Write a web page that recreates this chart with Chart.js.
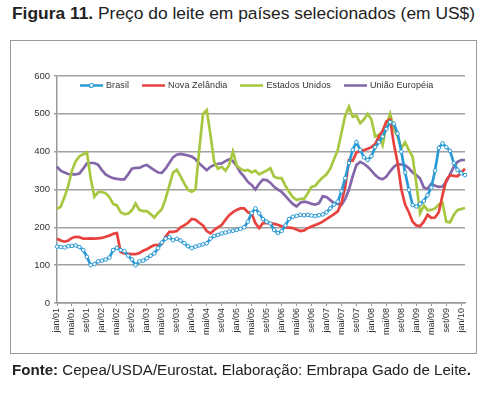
<!DOCTYPE html>
<html>
<head>
<meta charset="utf-8">
<script src="https://cdn.jsdelivr.net/npm/chart.js@4.4.1/dist/chart.umd.min.js"></script>
<style>
  body { margin: 0; background: #fff; }
  #wrap { position: relative; width: 487px; height: 393px; font-family: "Liberation Sans", Arial, sans-serif; color: #222; overflow: hidden; }
  #title { position: absolute; left: 12px; top: 3px; font-size: 17.4px; white-space: nowrap; }
  #frame { position: absolute; left: 10px; top: 40px; width: 465px; height: 312px; border: 1.5px solid #9a9a9a; }
  #footer { position: absolute; left: 12px; top: 361px; font-size: 15.1px; white-space: nowrap; }
  #chart { position: absolute; left: 0; top: 0; }
  #legend { position: absolute; left: 80px; top: 80px; display: flex; align-items: center; font-size: 9px; letter-spacing: 0.1px; color: #333; }
  #legend .item { display: flex; align-items: center; margin-right: 13px; }
  #legend svg { margin-right: 3px; }
</style>
</head>
<body>
<div id="wrap">
  <div id="title"><b>Figura 11.</b> Preço do leite em países selecionados (em US$)</div>
  <div id="frame"></div>
  <canvas id="chart" width="487" height="393"></canvas>
  <div id="legend"></div>
  <div id="footer"><b>Fonte:</b> Cepea/USDA/Eurostat<b>.</b> Elaboração: Embrapa Gado de Leite<b>.</b></div>
</div>
<script>
// meses de jan/01 a fev/10
const meses = ['jan', 'fev', 'mar', 'abr', 'mai', 'jun', 'jul', 'ago', 'set', 'out', 'nov', 'dez'];
const anos = ['01', '02', '03', '04', '05', '06', '07', '08', '09', '10'];
const yTicks = [0, 100, 200, 300, 400, 500, 600];

const brasil = [149, 148, 147, 150, 151, 152, 148, 140, 122, 100, 103, 110,
  112, 115, 120, 140, 146, 140, 137, 125, 115, 100, 110, 112,
  118, 125, 131, 145, 160, 170, 174, 166, 170, 165, 158, 150,
  145, 149, 152, 155, 158, 170, 177, 180, 184, 186, 189, 191,
  193, 196, 200, 215, 238, 250, 237, 222, 215, 210, 193, 185,
  190, 205, 222, 228, 230, 233, 232, 233, 231, 230, 232, 234,
  240, 250, 260, 268, 295, 330, 370, 405, 425, 405, 385, 378,
  388, 412, 425, 440, 460, 478, 474, 448, 400, 345, 299, 259,
  255, 262, 270, 285, 305, 350, 410, 422, 412, 402, 370, 352,
  343, 338];
const novaZelandia = [170, 165, 162, 165, 172, 175, 174, 170, 170, 171, 170, 171,
  172, 175, 178, 183, 185, 135, 131, 130, 129, 129, 132, 138,
  142, 148, 153, 154, 156, 175, 188, 188, 190, 200, 205, 212,
  222, 220, 212, 205, 190, 184, 193, 200, 206, 220, 232, 240,
  246, 250, 250, 240, 237, 211, 198, 211, 211, 211, 209, 207,
  203, 200, 199, 198, 194, 190, 192, 198, 202, 206, 210, 215,
  222, 228, 235, 242, 265, 307, 378, 376, 398, 402, 404, 408,
  412, 420, 440, 455, 480, 485, 420, 370, 300, 260, 240, 215,
  205, 203, 215, 233, 225, 226, 240, 285, 325, 338, 336, 335,
  345, 355];
const estadosUnidos = [248, 255, 280, 310, 350, 375, 388, 393, 398, 330, 281, 293,
  294, 290, 280, 262, 258, 240, 235, 236, 245, 263, 246, 243,
  243, 235, 226, 238, 248, 275, 310, 345, 352, 335, 316, 299,
  294, 300, 404, 500, 510, 445, 373, 355, 360, 350, 365, 400,
  363, 355, 350, 352, 345, 350, 340, 345, 350, 356, 334, 330,
  330, 310, 294, 280, 272, 275, 275, 290, 307, 310, 322, 332,
  340, 355, 380, 404, 450, 495, 519, 492, 495, 475, 485, 500,
  485, 440, 445, 418, 470, 500, 460, 440, 409, 425, 404, 387,
  316, 237, 258, 245, 246, 250, 260, 265, 215, 213, 233, 246,
  248, 252];
const uniaoEuropeia = [360, 350, 345, 341, 340, 340, 342, 355, 369, 370, 370, 365,
  351, 340, 334, 330, 328, 327, 327, 340, 355, 357, 357, 362,
  365, 358, 351, 345, 344, 355, 370, 385, 392, 394, 392, 390,
  387, 380, 369, 360, 351, 360, 365, 368, 369, 375, 380, 375,
  362, 345, 334, 320, 312, 300, 315, 326, 325, 318, 307, 300,
  294, 283, 272, 262, 255, 265, 268, 266, 262, 260, 264, 282,
  280, 272, 264, 262, 259, 275, 300, 335, 365, 373, 368, 360,
  350, 338, 330, 327, 334, 348, 360, 367, 366, 364, 356, 345,
  338, 329, 305, 302, 315, 310, 307, 308, 320, 340, 360, 373,
  378, 378];

const labels = brasil.map(function(v, i) {
  return meses[i % 12] + '/' + anos[Math.floor(i / 12)];
});

const series = [
  { label: 'Brasil', data: brasil, color: '#2a9ad6', marker: true },
  { label: 'Nova Zelândia', data: novaZelandia, color: '#e8423f', marker: false },
  { label: 'Estados Unidos', data: estadosUnidos, color: '#a6c73f', marker: false },
  { label: 'União Européia', data: uniaoEuropeia, color: '#8467a8', marker: false }
];

// legenda em HTML dentro da área do gráfico
const legend = document.getElementById('legend');
series.forEach(function(s) {
  const item = document.createElement('div');
  item.className = 'item';
  let svg = '<svg width="23" height="7"><line x1="0" y1="3.5" x2="23" y2="3.5" stroke="' + s.color + '" stroke-width="2.5"/>';
  if (s.marker) svg += '<circle cx="11.5" cy="3.5" r="2" fill="#fff" stroke="' + s.color + '" stroke-width="1.2"/>';
  svg += '</svg>';
  item.innerHTML = svg + '<span>' + s.label + '</span>';
  legend.appendChild(item);
});

const ctx = document.getElementById('chart').getContext('2d');
new Chart(ctx, {
  type: 'line',
  data: {
    labels: labels,
    datasets: series.map(function(s) {
      return {
        label: s.label,
        data: s.data,
        borderColor: s.color,
        backgroundColor: s.color,
        borderWidth: 2.7,
        tension: 0,
        pointRadius: s.marker ? 1.8 : 0,
        pointBorderWidth: 1,
        pointBackgroundColor: '#fff',
        pointBorderColor: s.color
      };
    })
  },
  options: {
    responsive: false,
    animation: false,
    layout: { padding: { left: 0, right: 22, top: 76, bottom: 0 } },
    plugins: { legend: { display: false }, tooltip: { enabled: false } },
    scales: {
      x: {
        offset: false,
        afterFit: function(scale) { scale.height = 90; },
        border: { color: '#999', width: 1.5 },
        grid: {
          drawOnChartArea: false,
          tickLength: 3,
          color: function(c) { return c.index % 4 === 0 ? '#999' : 'transparent'; }
        },
        ticks: {
          autoSkip: false,
          maxRotation: 90,
          minRotation: 90,
          padding: 2,
          color: '#333',
          font: { family: 'Liberation Sans, Arial', size: 9 },
          callback: function(v, i) { return i % 4 === 0 ? labels[i] : ''; }
        }
      },
      y: {
        min: 0,
        max: 600,
        afterFit: function(scale) { scale.width = 57; },
        afterBuildTicks: function(scale) { scale.ticks = yTicks.map(function(v) { return { value: v }; }); },
        border: { color: '#999', width: 1.5 },
        grid: { color: '#a0a0a0', lineWidth: 1.5, tickLength: 3 },
        ticks: {
          padding: 4,
          color: '#333',
          font: { family: 'Liberation Sans, Arial', size: 9.5 }
        }
      }
    }
  }
});
</script>
</body>
</html>
